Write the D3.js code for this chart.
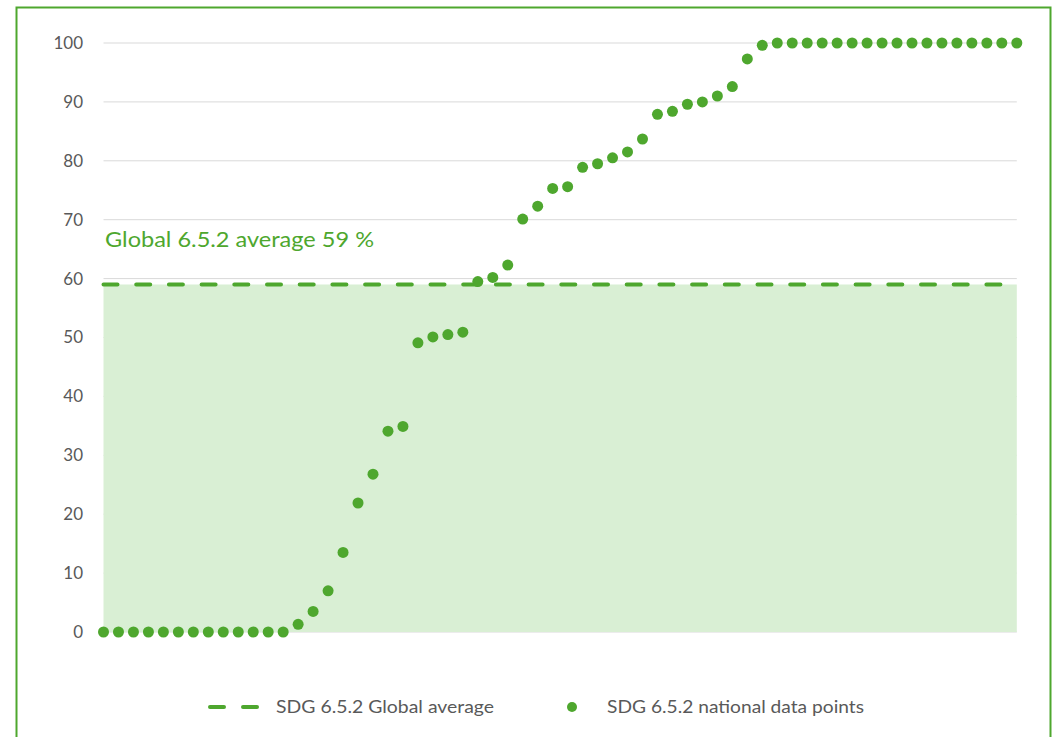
<!DOCTYPE html>
<html>
<head>
<meta charset="utf-8">
<script src="https://cdn.jsdelivr.net/npm/d3@7"></script>
<style>
  body { margin: 0; background: #fff; }
  svg text { font-family: 'Lato', 'Open Sans', sans-serif; }
</style>
</head>
<body>
<svg class="sdgChart" width="1053" height="737"></svg>
<script>
// national data points, sorted, one per country
const nationalValues = [
  0, 0, 0, 0, 0, 0, 0, 0, 0, 0, 0, 0, 0,
  1.3, 3.5, 7.0, 13.5, 21.9, 26.8, 34.1, 34.9,
  49.1, 50.1, 50.5, 50.9, 59.5, 60.2, 62.3,
  70.1, 72.3, 75.3, 75.6, 78.9, 79.5, 80.5, 81.5, 83.7,
  87.9, 88.4, 89.6, 90.0, 91.0, 92.6, 97.3, 99.6,
  100, 100, 100, 100, 100, 100, 100, 100, 100, 100, 100, 100, 100, 100, 100, 100, 100
];
const globalAverage = 59;
const yTicks = [0, 10, 20, 30, 40, 50, 60, 70, 80, 90, 100];
const annotationLabel = "Global 6.5.2 average 59 %";
const legendLabels = ["SDG 6.5.2 Global average", "SDG 6.5.2 national data points"];

const green = '#4ea72e';
const greyText = '#595959';

const svg = d3.select('svg.sdgChart');

const plot = {left: 103.5, right: 1016.8, top: 43, bottom: 632};

const x = d3.scaleLinear()
  .domain([1, nationalValues.length])
  .range([plot.left, plot.right]);

const y = d3.scaleLinear()
  .domain([0, 100])
  .range([plot.bottom, plot.top]);

// outer frame
svg.append('rect')
  .attr('x', 16.5)
  .attr('y', 7.5)
  .attr('width', 1034)
  .attr('height', 760)
  .style('fill', 'none')
  .style('stroke', green)
  .style('stroke-width', 2);

// gridlines
svg.append('g')
  .selectAll('line')
  .data(yTicks)
  .enter()
  .append('line')
  .attr('x1', plot.left)
  .attr('x2', plot.right)
  .attr('y1', d => y(d))
  .attr('y2', d => y(d))
  .style('stroke', '#d9d9d9')
  .style('stroke-width', 1);

// area under the global average
svg.append('rect')
  .attr('x', plot.left)
  .attr('y', y(globalAverage))
  .attr('width', plot.right - plot.left)
  .attr('height', y(0) - y(globalAverage))
  .style('fill', '#d9efd4');

// y axis labels
const yAxis = d3.axisLeft(y).tickValues(yTicks).tickSize(0).tickPadding(0);
const yAxisG = svg.append('g')
  .attr('transform', 'translate(83, 0)')
  .call(yAxis);
yAxisG.select('.domain').remove();
yAxisG.selectAll('text')
  .style('font-size', '17px')
  .style('fill', greyText)
  .style('font-family', "'Lato', sans-serif");

// dashed average line
svg.append('line')
  .attr('x1', x(1))
  .attr('x2', x(nationalValues.length))
  .attr('y1', y(globalAverage))
  .attr('y2', y(globalAverage))
  .style('stroke', green)
  .style('stroke-width', 4)
  .style('stroke-linecap', 'round')
  .style('stroke-dasharray', '14,18.7');

// national points
svg.append('g')
  .selectAll('circle')
  .data(nationalValues)
  .enter()
  .append('circle')
  .attr('cx', (d, i) => x(i + 1))
  .attr('cy', d => y(d))
  .attr('r', 5.5)
  .style('fill', green);

// annotation
svg.append('text')
  .text(annotationLabel)
  .attr('x', 105)
  .attr('y', 247)
  .attr('textLength', 269)
  .attr('lengthAdjust', 'spacingAndGlyphs')
  .style('font-size', '21px')
  .style('fill', green);

// legend
const legend = svg.append('g').attr('class', 'legend');
legend.append('line')
  .attr('x1', 210)
  .attr('x2', 258)
  .attr('y1', 707)
  .attr('y2', 707)
  .style('stroke', green)
  .style('stroke-width', 4)
  .style('stroke-linecap', 'round')
  .style('stroke-dasharray', '14,19');
legend.append('text')
  .text(legendLabels[0])
  .attr('x', 276)
  .attr('y', 713)
  .attr('textLength', 218)
  .attr('lengthAdjust', 'spacingAndGlyphs')
  .style('font-size', '18px')
  .style('fill', greyText);
legend.append('circle')
  .attr('cx', 572)
  .attr('cy', 707)
  .attr('r', 5)
  .style('fill', green);
legend.append('text')
  .text(legendLabels[1])
  .attr('x', 607)
  .attr('y', 713)
  .attr('textLength', 257)
  .attr('lengthAdjust', 'spacingAndGlyphs')
  .style('font-size', '18px')
  .style('fill', greyText);
</script>
</body>
</html>
